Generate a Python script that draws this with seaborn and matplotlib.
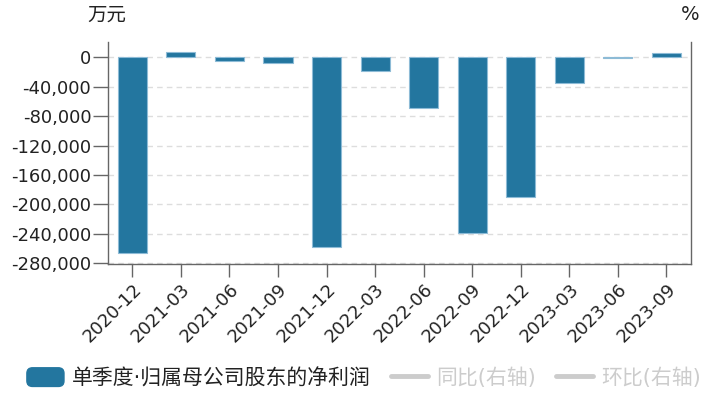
import matplotlib
matplotlib.use("Agg")
import matplotlib.pyplot as plt
import seaborn as sns
import pandas as pd
from matplotlib.patches import Patch, FancyBboxPatch
from matplotlib.lines import Line2D
from matplotlib.legend_handler import HandlerPatch

categories = ["2020-12", "2021-03", "2021-06", "2021-09", "2021-12", "2022-03",
              "2022-06", "2022-09", "2022-12", "2023-03", "2023-06", "2023-09"]
net_profit = [-266000, 7600, -4600, -7700, -257400, -18600,
              -68500, -239200, -189500, -35300, -500, 5400]
yticks = [0, -40000, -80000, -120000, -160000, -200000, -240000, -280000]

sns.set_theme(style="white")
plt.rcParams['font.family'] = ['DejaVu Sans', 'Noto Sans CJK SC']
plt.rcParams['axes.unicode_minus'] = False

df = pd.DataFrame({"period": categories, "value": net_profit})

fig = plt.figure(figsize=(7.17, 3.97), dpi=100)
ax = fig.add_axes([108/717, 1-264.3/397, (690.7-108)/717, (264.3-41.7)/397])

bar_color = "#23769f"
sns.barplot(data=df, x="period", y="value", ax=ax, color=bar_color,
            width=0.6, saturation=1, edgecolor="#8dbbd6", linewidth=0.8, zorder=3)

ax.set_ylim(-281400, 21200)
ax.set_xlim(-0.5, len(categories) - 0.5)
ax.set_yticks(yticks)
ax.set_yticklabels([f"{v:,}" for v in yticks], fontsize=13, color="#222222")
ax.set_xticks(range(len(categories)))
ax.set_xticklabels(categories, rotation=45, ha="right", rotation_mode="anchor",
                   fontsize=13, color="#222222")
ax.set_xlabel("")
ax.set_ylabel("")

ax.yaxis.grid(True, linestyle=(0, (4, 3)), color="#dddddd", linewidth=1, zorder=0)
ax.xaxis.grid(False)
for s in ["left", "bottom", "right"]:
    ax.spines[s].set_visible(True)
    ax.spines[s].set_color("#666666")
    ax.spines[s].set_linewidth(1)
ax.spines["top"].set_visible(False)
ax.tick_params(axis="y", length=11, width=1, color="#666666", left=True, pad=1)
ax.tick_params(axis="x", length=9.5, width=1, color="#666666", bottom=True, pad=2)

fig.text(107/717, 1-15/397, "万元", ha="center", va="center", fontsize=14, color="#222222",
         family=['Noto Sans CJK SC', 'DejaVu Sans'])
fig.text(690/717, 1-15/397, "%", ha="center", va="center", fontsize=14, color="#222222")


class RoundHandler(HandlerPatch):
    def create_artists(self, legend, orig_handle, xdescent, ydescent, width, height,
                       fontsize, trans):
        p = FancyBboxPatch((-xdescent, -ydescent), width, height,
                           boxstyle="round,pad=0,rounding_size=4",
                           facecolor=orig_handle.get_facecolor(),
                           edgecolor=orig_handle.get_edgecolor(), transform=trans)
        return [p]


bar_handle = Patch(facecolor=bar_color, edgecolor=bar_color)
handles = [bar_handle,
           Line2D([0], [0], color="#cccccc", linewidth=3.5),
           Line2D([0], [0], color="#cccccc", linewidth=3.5)]
labels = ["单季度·归属母公司股东的净利润", "同比(右轴)", "环比(右轴)"]
leg = fig.legend(handles, labels, loc="center", bbox_to_anchor=(364/717, 1-378/397),
                 ncol=3, frameon=False, fontsize=15, handlelength=1.78,
                 handleheight=1.0, handletextpad=0.4, columnspacing=0.95,
                 handler_map={Patch: RoundHandler()})
for t, c in zip(leg.get_texts(), ["#222222", "#cccccc", "#cccccc"]):
    t.set_color(c)

fig.savefig("out.png", dpi=100)
